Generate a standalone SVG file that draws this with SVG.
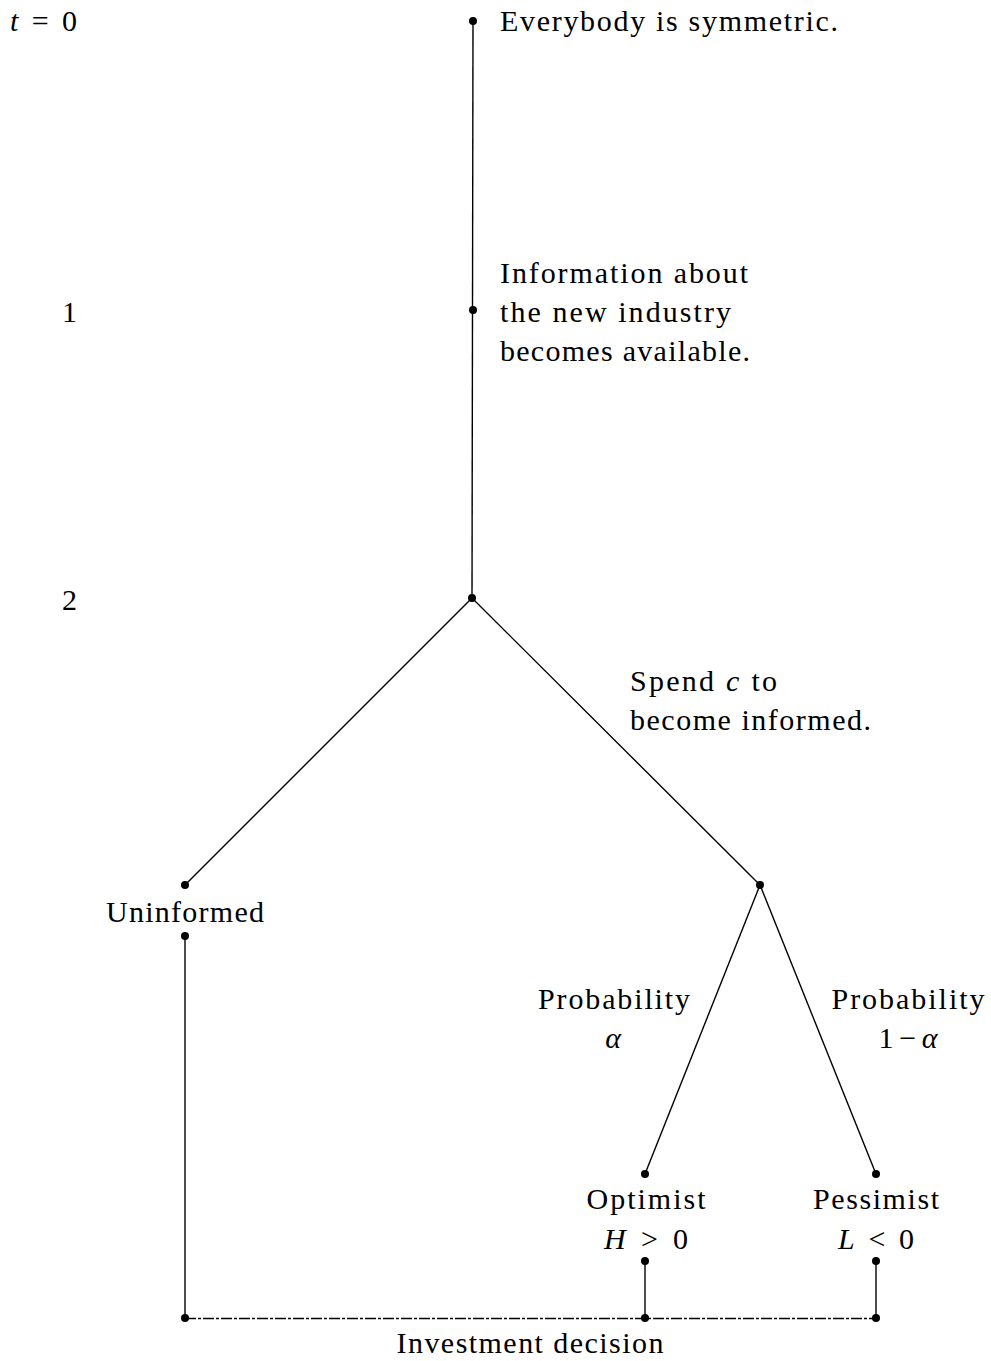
<svg xmlns="http://www.w3.org/2000/svg" width="991" height="1361" viewBox="0 0 991 1361">
<style>
text{font-family:"Liberation Serif","Times New Roman",serif;font-size:30px;fill:#000}
.m{font-style:italic}
.c{text-anchor:middle}
.e{stroke:#000;stroke-width:1.4;fill:none}
.d{fill:#000}
</style>
<rect width="991" height="1361" fill="#fff"/>
<g id="connectors">
<line class="e" x1="473" y1="21" x2="472" y2="598"/>
<line class="e" x1="472" y1="598" x2="185" y2="885"/>
<line class="e" x1="472" y1="598" x2="760" y2="885"/>
<line class="e" x1="185" y1="936" x2="185" y2="1318"/>
<line class="e" x1="760" y1="885" x2="645" y2="1174"/>
<line class="e" x1="760" y1="885" x2="876" y2="1174"/>
<line class="e" x1="645" y1="1261" x2="645" y2="1318"/>
<line class="e" x1="876" y1="1261" x2="876" y2="1318"/>
<line class="e" x1="185" y1="1318.5" x2="876" y2="1318.5" stroke-width="3" stroke-dasharray="11 2 3 2"/>
</g>
<g id="timeline">
<text x="10" y="31" textLength="67"><tspan class="m">t</tspan> = 0</text>
<text x="77" y="322" text-anchor="end">1</text>
<text x="77" y="610" text-anchor="end">2</text>
</g>
<g id="n0"><circle class="d" cx="473" cy="21" r="4"/><text x="500" y="31" textLength="338">Everybody is symmetric.</text></g>
<g id="n1"><circle class="d" cx="473" cy="310" r="4"/>
<text x="500" y="283" textLength="248">Information about</text>
<text x="500" y="322" textLength="231">the new industry</text>
<text x="500" y="361" textLength="250">becomes available.</text></g>
<g id="n2"><circle class="d" cx="472" cy="598" r="4"/></g>
<g id="spend"><text x="630" y="691" textLength="147">Spend <tspan class="m">c</tspan> to</text>
<text x="630" y="730" textLength="241">become informed.</text></g>
<g id="uninformed"><circle class="d" cx="185" cy="885" r="4"/><text class="c" x="185" y="922" textLength="158">Uninformed</text><circle class="d" cx="185" cy="936" r="4"/></g>
<g id="informed"><circle class="d" cx="760" cy="885" r="4"/></g>
<g id="probA"><text class="c" x="614" y="1009" textLength="152">Probability</text><text class="c m" x="613" y="1048">α</text></g>
<g id="probB"><text class="c" x="908" y="1009" textLength="153">Probability</text><text class="c" x="908" y="1048" textLength="59">1−<tspan class="m">α</tspan></text></g>
<g id="optimist"><circle class="d" cx="645" cy="1174" r="4"/><text class="c" x="646" y="1209" textLength="119">Optimist</text><text class="c" x="646" y="1249" textLength="84"><tspan class="m">H</tspan> &gt; 0</text><circle class="d" cx="645" cy="1261" r="4"/></g>
<g id="pessimist"><circle class="d" cx="876" cy="1174" r="4"/><text class="c" x="876" y="1209" textLength="126">Pessimist</text><text class="c" x="876" y="1249" textLength="76"><tspan class="m">L</tspan> &lt; 0</text><circle class="d" cx="876" cy="1261" r="4"/></g>
<g id="investment"><circle class="d" cx="185" cy="1318" r="4"/><circle class="d" cx="645" cy="1318" r="4"/><circle class="d" cx="876" cy="1318" r="4"/><text class="c" x="530" y="1353" textLength="267">Investment decision</text></g>
</svg>
